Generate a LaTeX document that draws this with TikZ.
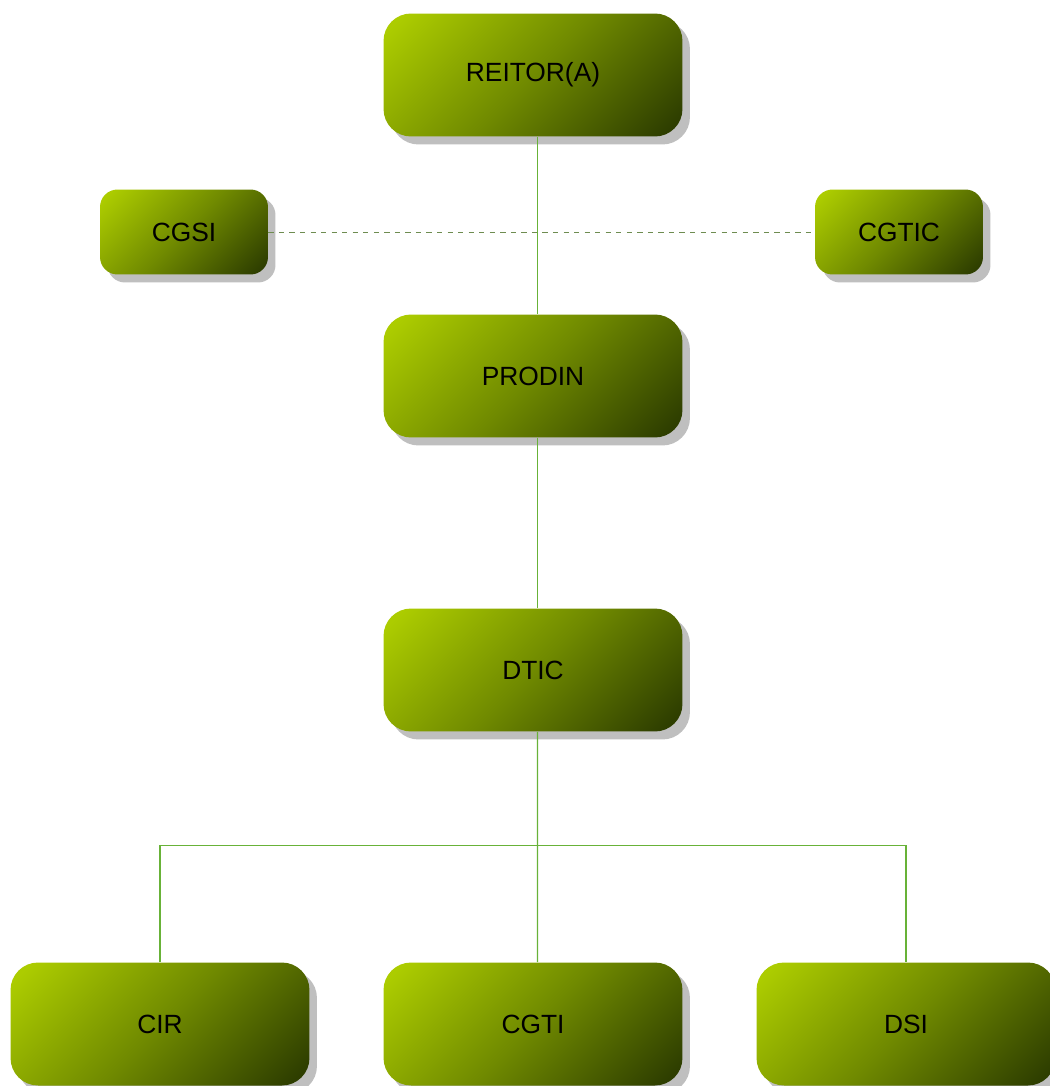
\documentclass[tikz,border=0pt]{standalone}
\usepackage{fontspec}
\setmainfont{Liberation Sans}
\usetikzlibrary{shadows}

\definecolor{boxlight}{RGB}{172,204,0}
\definecolor{boxmid}{RGB}{112,138,0}
\definecolor{boxdark}{RGB}{46,62,0}
\definecolor{linkgreen}{RGB}{104,178,56}
\definecolor{staffgreen}{RGB}{110,140,80}

\pgfdeclareverticalshading{unitshade}{100bp}{color(0bp)=(boxdark); color(18bp)=(boxdark);
    color(50bp)=(boxmid); color(82bp)=(boxlight); color(100bp)=(boxlight)}

\begin{document}
\begin{tikzpicture}[x=0.02cm, y=-0.02cm,
    unit/.style={rounded corners=0.55cm, shading=unitshade, shading angle=45,
        minimum width=5.98cm, minimum height=2.46cm, inner sep=0pt,
        font=\fontsize{15}{18}\selectfont,
        drop shadow={shadow xshift=0.15cm, shadow yshift=-0.16cm, fill=black!25, opacity=1}},
    staff/.style={unit, rounded corners=0.35cm, minimum width=3.36cm, minimum height=1.7cm},
    link/.style={color=linkgreen, line width=0.6pt},
    advice/.style={color=staffgreen, dashed, line width=0.5pt}]

    \useasboundingbox (0, 0) rectangle (1050, 1086);

    % hierarchy
    \node[unit] (reitor) at (533, 75) {REITOR(A)};
    \node[staff] (cgsi) at (184, 232) {CGSI};
    \node[staff] (cgtic) at (899, 232) {CGTIC};
    \node[unit] (prodin) at (533, 376) {PRODIN};
    \node[unit] (dtic) at (533, 670) {DTIC};

    \node[unit] (cir) at (160, 1024) {CIR};
    \node[unit] (cgti) at (533, 1024) {CGTI};
    \node[unit] (dsi) at (906, 1024) {DSI};

    \coordinate (split) at (537.5, 845.5);

    \draw[link] ([xshift=0.09cm]reitor.south) -- ([xshift=0.09cm]prodin.north);
    \draw[link] ([xshift=0.09cm]prodin.south) -- ([xshift=0.09cm]dtic.north);
    \draw[link] ([xshift=0.09cm]dtic.south) -- (split);
    \draw[link] (cir.north) |- (split) -| (dsi.north);
    \draw[link] (split) -- ([xshift=0.09cm]cgti.north);

    \draw[advice] (cgsi.east) -- (cgtic.west);
\end{tikzpicture}
\end{document}
